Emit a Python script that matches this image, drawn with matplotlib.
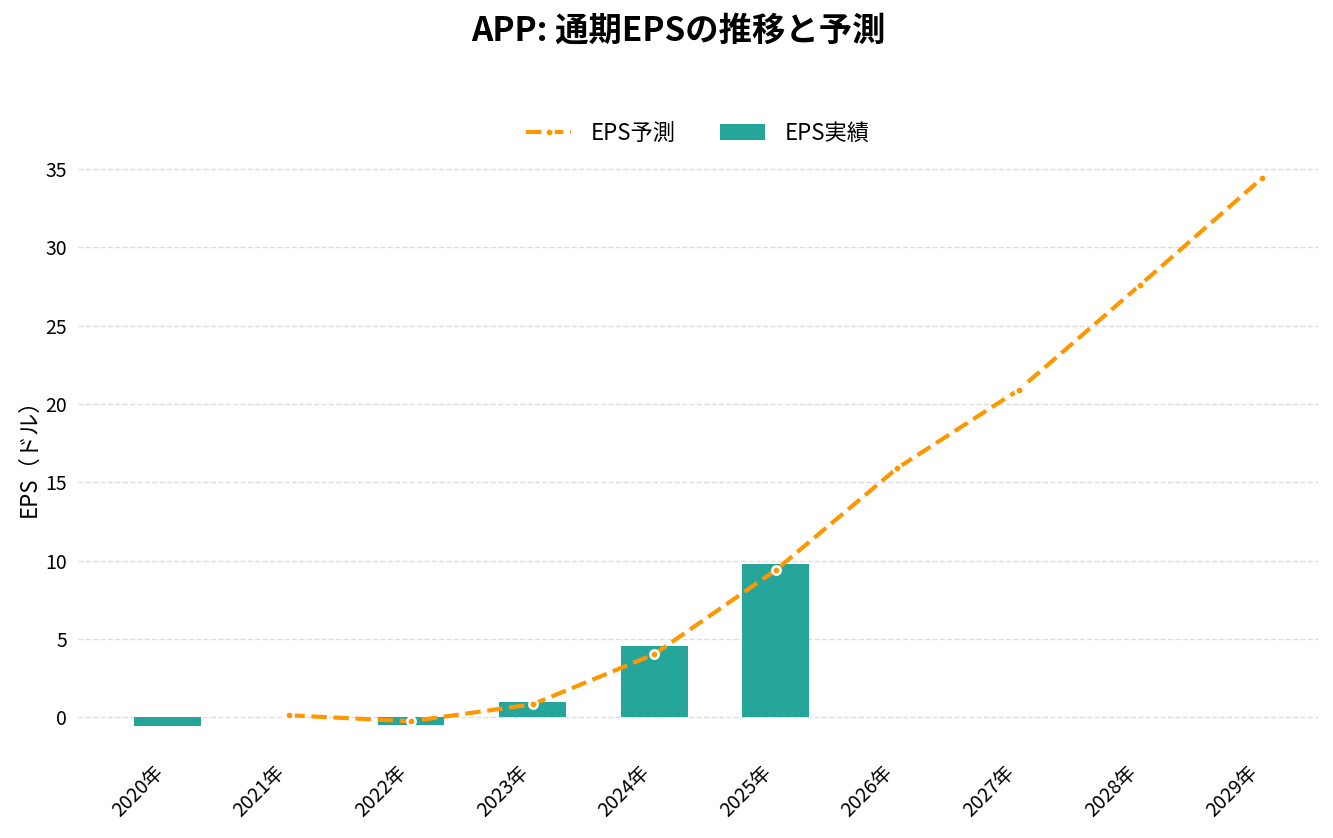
import matplotlib
matplotlib.use("Agg")
import matplotlib.pyplot as plt
import numpy as np

plt.rcParams['font.family'] = ['Noto Sans CJK JP', 'DejaVu Sans']

years = ['2020年', '2021年', '2022年', '2023年', '2024年', '2025年', '2026年', '2027年', '2028年', '2029年']
actual_eps = [-0.55, 0.05, -0.5, 0.96, 4.53, 9.77]
forecast_eps = [0.13, -0.25, 0.83, 4.02, 9.39, 15.9, 20.9, 27.6, 34.4]

x = np.arange(len(years))

fig = plt.figure(figsize=(13.33, 8.38), dpi=100)
ax = fig.add_axes([0.0585, 0.101, 0.9305, 0.719])

ax.bar(x[:len(actual_eps)], actual_eps, width=0.55, color='#26A69A', label='EPS実績', zorder=2)
ax.plot(x[1:1 + len(forecast_eps)], forecast_eps, linestyle='--', color='#FF9800', linewidth=3,
        marker='o', markersize=6, markerfacecolor='#FF9800', markeredgecolor='white',
        markeredgewidth=1.8, label='EPS予測', zorder=3)

ax.set_xticks(x)
ax.set_xticklabels(years, rotation=45, ha='right', rotation_mode='default', fontsize=14)
ax.tick_params(axis='y', labelsize=14, length=0, pad=8)
ax.tick_params(axis='x', length=0, pad=6)
ax.set_yticks([0, 5, 10, 15, 20, 25, 30, 35])
ax.set_ylabel('EPS（ドル）', fontsize=16, labelpad=3)
ax.grid(axis='y', linestyle='--', color='#dddddd', linewidth=1, zorder=0)
ax.set_axisbelow(True)
for s in ax.spines.values():
    s.set_visible(False)

handles, labels = ax.get_legend_handles_labels()
ax.legend(handles, labels, loc='center', bbox_to_anchor=(0.5, 1.029), ncol=2,
          frameon=False, fontsize=16, columnspacing=2.0, handlelength=2.0, handletextpad=0.9)

fig.text(0.509, 0.963, 'APP: 通期EPSの推移と予測', fontsize=24, fontweight='bold',
         ha='center', va='center')

fig.savefig('out.png', dpi=100)
